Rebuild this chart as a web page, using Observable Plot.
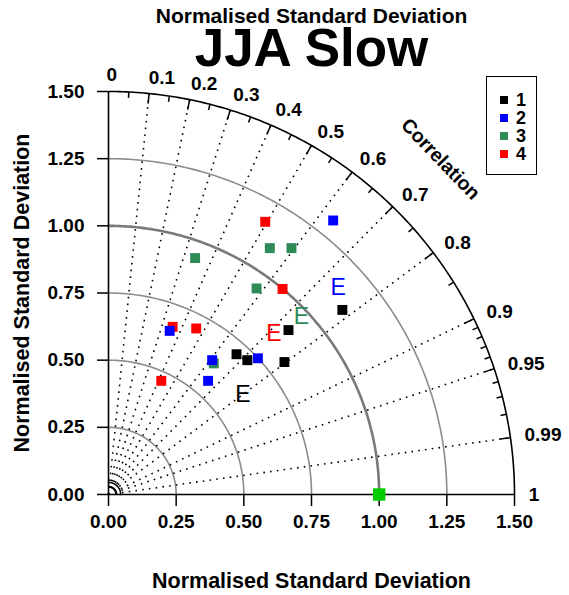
<!DOCTYPE html>
<html><head><meta charset="utf-8">
<script src="https://cdn.jsdelivr.net/npm/d3@7"></script>
<script src="https://cdn.jsdelivr.net/npm/@observablehq/plot@0.6"></script>
<style>
body{margin:0;background:#fff;font-family:"Liberation Sans",Arial,sans-serif;}
#wrap{position:relative;width:569px;height:595px;}
#legend{position:absolute;left:486px;top:76px;width:49px;height:97px;border:1.5px solid #000;background:#fff;}
.item{position:absolute;left:0;height:18px;display:flex;align-items:center;font-weight:bold;font-size:18px;line-height:17px;color:#000;}
.sw{width:8px;height:8px;margin-left:13px;margin-right:8px;}
</style></head><body><div id="wrap"><div id="legend"></div></div>
<script>
// ---- data ----
const titleMain = "JJA Slow";
const axisTitle = "Normalised Standard Deviation";
const corrTitle = "Correlation";
const seriesNames = ["1", "2", "3", "4"];
const seriesColors = ["#000000", "#0000ff", "#2e8b57", "#ff0000"];
// model points (x = sd*corr, y = sd*sin)
const s1x = [0.473, 0.513, 0.665, 0.650, 0.864];
const s1y = [0.522, 0.500, 0.612, 0.493, 0.687];
const s2x = [0.830, 0.383, 0.368, 0.552, 0.226];
const s2y = [1.020, 0.500, 0.423, 0.507, 0.609];
const s3x = [0.320, 0.596, 0.676, 0.547, 0.389];
const s3y = [0.880, 0.917, 0.917, 0.767, 0.488];
const s4x = [0.579, 0.643, 0.324, 0.237, 0.195];
const s4y = [1.015, 0.765, 0.618, 0.624, 0.423];
// ensemble ("E") markers for series 1..4
const eX = [0.497, 0.849, 0.713, 0.611];
const eY = [0.371, 0.769, 0.662, 0.598];
// reference point
const refX = [1.0];
const refY = [0.0];
// axes
const sdTicks = [0, 0.25, 0.5, 0.75, 1.0, 1.25, 1.5];
const sdArcs = [0.25, 0.5, 0.75, 1.25];
const sdRefArc = [1.0];
const sdMax = 1.5;
const corrLabels = [0, 0.1, 0.2, 0.3, 0.4, 0.5, 0.6, 0.7, 0.8, 0.9, 0.95, 0.99, 1];
const corrLabelText = ["0", "0.1", "0.2", "0.3", "0.4", "0.5", "0.6", "0.7", "0.8", "0.9", "0.95", "0.99", "1"];
const corrRays = [0.1, 0.2, 0.3, 0.4, 0.5, 0.6, 0.7, 0.8, 0.9, 0.95, 0.99];
const corrMinor = [0.05, 0.15, 0.25, 0.35, 0.45, 0.55, 0.65, 0.75, 0.85, 0.91, 0.92, 0.93, 0.94, 0.96, 0.97, 0.98];
const tinyArcs = [0.03, 0.045];

// ---- build tables ----
const sx = [s1x, s2x, s3x, s4x], sy = [s1y, s2y, s3y, s4y];
const pts = [];
for (const i of [3, 2, 1, 0]) sx[i].forEach((x, j) => pts.push({x, y: sy[i][j], s: seriesNames[i]}));
const eData = eX.map((x, i) => ({x, y: eY[i], s: seriesNames[i]}));
const refData = refX.map((x, i) => ({x, y: refY[i]}));
const angles = d3.range(0, 90.01, 0.5);
const arcPts = radii => radii.flatMap(r => angles.map(a => ({r, x: r * Math.cos(a * Math.PI / 180), y: r * Math.sin(a * Math.PI / 180)})));
const sinOf = c => Math.sqrt(Math.max(0, 1 - c * c));
const rays = corrRays.map(c => ({x1: 0, y1: 0, x2: sdMax * c, y2: sdMax * sinOf(c)}));
const tick = (cs, len) => cs.map(c => ({x1: sdMax * c, y1: sdMax * sinOf(c), x2: (sdMax - len) * c, y2: (sdMax - len) * sinOf(c)}));
const labR = 1.56;
const labs = corrLabels.map((c, i) => ({x: labR * c, y: labR * sinOf(c), t: corrLabelText[i]}));
const cAng = 45.5 * Math.PI / 180;
const corrTitlePos = [{x: 1.75 * Math.cos(cAng), y: 1.75 * Math.sin(cAng)}];

const color = {domain: seriesNames, range: seriesColors};

const chart = Plot.plot({
  width: 569, height: 595,
  marginLeft: 108, marginRight: 55, marginTop: 91, marginBottom: 101,
  x: {domain: [0, sdMax]},
  y: {domain: [0, sdMax]},
  color,
  style: {fontFamily: "'Liberation Sans', Arial, sans-serif", fontSize: "19px", fontWeight: "bold", background: "#fff", overflow: "visible"},
  marks: [
    Plot.line(arcPts(sdArcs), {x: "x", y: "y", z: "r", stroke: "#8c8c8c", strokeWidth: 1.6}),
    Plot.line(arcPts(sdRefArc), {x: "x", y: "y", z: "r", stroke: "#7a7a7a", strokeWidth: 2.6}),
    Plot.link(rays, {x1: "x1", y1: "y1", x2: "x2", y2: "y2", stroke: "#000", strokeWidth: 1.6, strokeDasharray: "1.6,5.2"}),
    Plot.line(arcPts(tinyArcs), {x: "x", y: "y", z: "r", stroke: "#000", strokeWidth: 1.5}),
    Plot.line(arcPts([sdMax]), {x: "x", y: "y", z: "r", stroke: "#000", strokeWidth: 1.6}),
    Plot.link(tick(corrRays, 0.038), {x1: "x1", y1: "y1", x2: "x2", y2: "y2", stroke: "#000", strokeWidth: 1.5}),
    Plot.link(tick(corrMinor, 0.022), {x1: "x1", y1: "y1", x2: "x2", y2: "y2", stroke: "#000", strokeWidth: 1.5}),
    Plot.ruleX([0], {y1: 0, y2: sdMax, stroke: "#000", strokeWidth: 1.6}),
    Plot.ruleY([0], {x1: 0, x2: sdMax, stroke: "#000", strokeWidth: 1.6}),
    Plot.axisX({ticks: sdTicks, tickFormat: d3.format(".2f"), tickSize: 12, tickPadding: 8, strokeWidth: 1.5, label: null, fill: "#000", fontSize: 19}),
    Plot.axisY({ticks: sdTicks, tickFormat: d3.format(".2f"), tickSize: 11, tickPadding: 13, strokeWidth: 1.5, label: null, fill: "#000", fontSize: 19}),
    Plot.dot(pts, {x: "x", y: "y", fill: "s", symbol: "square", r: 5.6}),
    Plot.dot(refData, {x: "x", y: "y", fill: "#00cc00", symbol: "square", r: 7}),
    Plot.text(eData, {x: "x", y: "y", text: () => "E", fill: "s", fontSize: 23, fontWeight: "normal"}),
    Plot.text(labs, {x: "x", y: "y", text: "t", textAnchor: "start", dx: -2, fill: "#000", fontSize: 19}),
    Plot.text(corrTitlePos, {x: "x", y: "y", text: () => corrTitle, rotate: 46, fill: "#000", fontSize: 19.5}),
    Plot.text([axisTitle], {frameAnchor: "bottom", lineAnchor: "middle", dy: 87, fill: "#000", fontSize: 21.5}),
    Plot.text([axisTitle], {frameAnchor: "left", textAnchor: "middle", lineAnchor: "middle", dx: -86, rotate: -90, fill: "#000", fontSize: 21.5}),
    Plot.text([axisTitle], {frameAnchor: "top", lineAnchor: "middle", dy: -75, fill: "#000", fontSize: 21}),
    Plot.text([titleMain], {frameAnchor: "top", lineAnchor: "middle", dy: -42, fill: "#000", fontSize: 53})
  ]
});
document.getElementById("wrap").prepend(chart);

// legend
const leg = document.getElementById("legend");
seriesNames.forEach((n, i) => {
  const it = document.createElement("div");
  it.className = "item";
  it.style.top = (14 + 18 * i) + "px";
  it.innerHTML = `<span class="sw" style="background:${seriesColors[i]}"></span><span>${n}</span>`;
  leg.appendChild(it);
});
</script>
</body></html>
